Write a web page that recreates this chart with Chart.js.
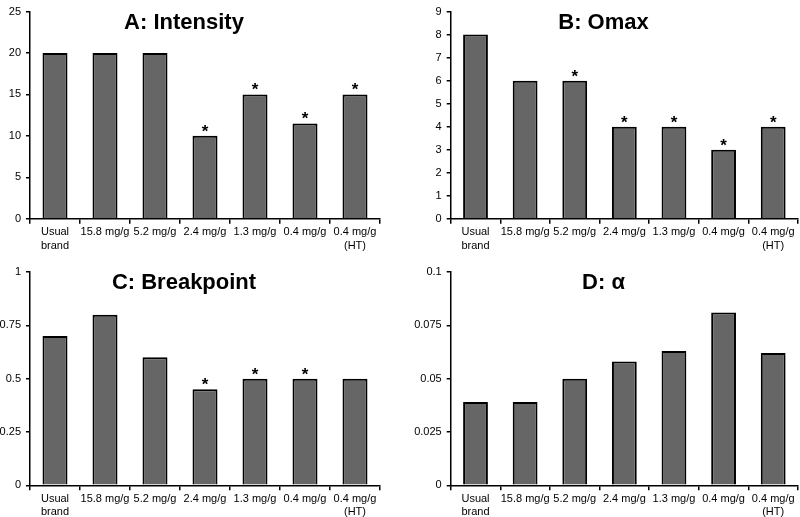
<!DOCTYPE html>
<html>
<head>
<meta charset="utf-8">
<script src="https://cdn.jsdelivr.net/npm/chart.js@4.4.1/dist/chart.umd.min.js"></script>
<style>
  html,body{margin:0;padding:0;background:#fff;}
  #wrap{position:relative;width:800px;height:517px;overflow:hidden;}
  .p{position:absolute;}
</style>
</head>
<body>
<div id="wrap">
  <div class="p" style="left:0;top:0;width:400px;height:260px"><canvas id="cA"></canvas></div>
  <div class="p" style="left:400px;top:0;width:400px;height:260px"><canvas id="cB"></canvas></div>
  <div class="p" style="left:0;top:260px;width:400px;height:257px"><canvas id="cC"></canvas></div>
  <div class="p" style="left:400px;top:260px;width:400px;height:257px"><canvas id="cD"></canvas></div>
</div>
<script>
const categories = [['Usual','brand'],'15.8 mg/g','5.2 mg/g','2.4 mg/g','1.3 mg/g','0.4 mg/g',['0.4 mg/g','(HT)']];

const intensity  = [20, 20, 20, 10, 15, 11.5, 15];
const omax       = [8, 6, 6, 4, 4, 3, 4];
const breakpoint = [0.7, 0.8, 0.6, 0.45, 0.5, 0.5, 0.5];
const alpha      = [0.039, 0.039, 0.050, 0.058, 0.063, 0.081, 0.062];

// bars marked with an asterisk
const starA = [3,4,5,6];
const starB = [2,3,4,5,6];
const starC = [3,4,5];
const starD = [];

const FONT = 'Arial, "Liberation Sans", sans-serif';

const panelDeco = {
  id:'panelDeco',
  afterDatasetsDraw(chart, args, opts){
    const ctx = chart.ctx, a = chart.chartArea;
    ctx.save();
    ctx.fillStyle = '#000';
    ctx.textAlign = 'center';
    ctx.textBaseline = 'middle';
    ctx.font = 'bold 22px ' + FONT;
    ctx.fillText(opts.title, a.left + (a.right - a.left) * 0.44, a.top + 11);
    ctx.textBaseline = 'alphabetic';
    ctx.font = 'bold 17px ' + FONT;
    const meta = chart.getDatasetMeta(0);
    opts.stars.forEach(i => {
      const el = meta.data[i];
      ctx.fillText('*', el.x, el.y + 1);
    });
    ctx.restore();
  }
};

function makePanel(id, title, data, max, step, stars, yWidth, padTop, xHeight, fmt){
  new Chart(document.getElementById(id), {
    type:'bar',
    data:{labels:categories, datasets:[{data:data, backgroundColor:'#666666',
      borderColor:'#000', borderWidth:2, borderSkipped:'start',
      categoryPercentage:1, barPercentage:0.5}]},
    options:{
      responsive:true, maintainAspectRatio:false, animation:false,
      layout:{padding:{top:padTop, right: yWidth > 40 ? 2 : 20, left:0, bottom:0}},
      plugins:{legend:{display:false}, tooltip:{enabled:false},
        panelDeco:{title:title, stars:stars}},
      scales:{
        x:{
          grid:{display:true, drawOnChartArea:false, offset:true, tickLength:5, color:'#000', lineWidth:1.5},
          border:{display:true, color:'#000', width:1.5},
          ticks:{color:'#000', font:{family:FONT, size:11}, padding:2, maxRotation:0, autoSkip:false},
          afterFit(s){ s.height = xHeight; }
        },
        y:{
          min:0, max:max,
          grid:{display:true, drawOnChartArea:false, tickLength:4, color:'#000', lineWidth:1.5},
          border:{display:true, color:'#000', width:1.5},
          ticks:{stepSize:step, color:'#000', font:{family:FONT, size:11}, padding:5,
            callback:v => fmt ? fmt(v) : v},
          afterFit(s){ s.width = yWidth; }
        }
      }
    },
    plugins:[panelDeco]
  });
}

makePanel('cA', 'A: Intensity', intensity, 25, 5, starA, 30, 4, 41.3);
makePanel('cB', 'B: Omax', omax, 9, 1, starB, 50.7, 4, 41.3);
makePanel('cC', 'C: Breakpoint', breakpoint, 1, 0.25, starC, 30, 12, 31.7);
makePanel('cD', 'D: α', alpha, 0.1, 0.025, starD, 50.7, 12, 31.7,
  v => String(Math.round(v*1000)/1000));
</script>
</body>
</html>
